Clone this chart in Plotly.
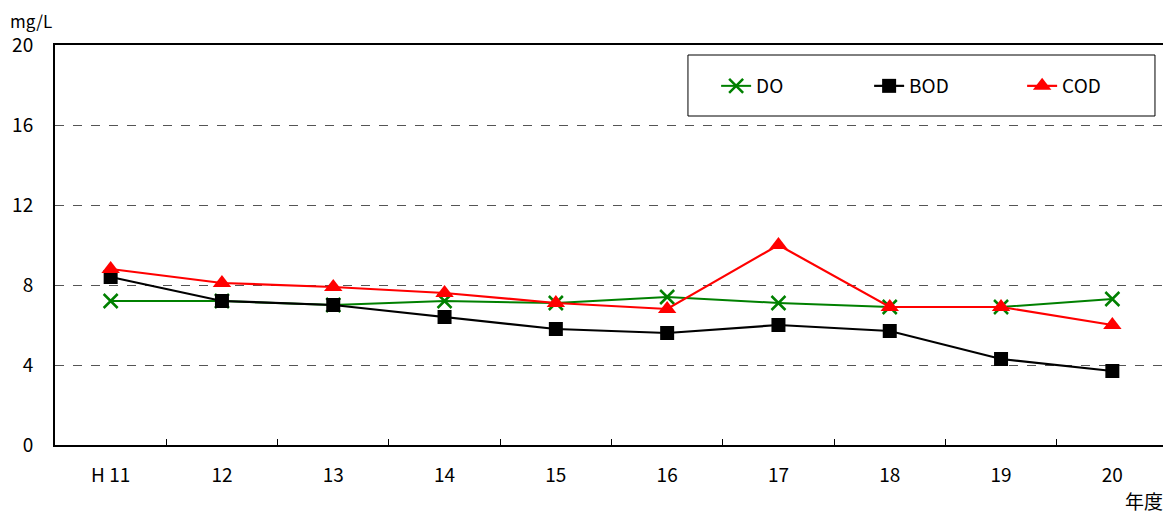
import plotly.graph_objects as go

years = ["H 11", "12", "13", "14", "15", "16", "17", "18", "19", "20"]
do_vals = [7.2, 7.2, 7.0, 7.2, 7.1, 7.4, 7.1, 6.9, 6.9, 7.3]
bod_vals = [8.4, 7.2, 7.0, 6.4, 5.8, 5.6, 6.0, 5.7, 4.3, 3.7]
cod_vals = [8.8, 8.1, 7.9, 7.6, 7.1, 6.8, 10.0, 6.9, 6.9, 6.0]
y_ticks = [0, 4, 8, 12, 16, 20]

FONT = "Noto Sans CJK JP"
FS = 19

fig = go.Figure()
fig.add_trace(go.Scatter(
    x=years, y=do_vals, name="DO", mode="lines+markers",
    line=dict(color="#008000", width=2),
    marker=dict(symbol="x-thin", size=14, line=dict(color="#008000", width=2.5), color="#008000"),
))
fig.add_trace(go.Scatter(
    x=years, y=bod_vals, name="BOD", mode="lines+markers",
    line=dict(color="#000000", width=2.2),
    marker=dict(symbol="square", size=14, color="#000000"),
))
fig.add_trace(go.Scatter(
    x=years, y=cod_vals, name="COD", mode="lines+markers",
    line=dict(color="#FF0000", width=2.2),
    marker=dict(symbol="triangle-up", size=16, color="#FF0000"),
))

fig.update_layout(
    width=1171, height=515,
    margin=dict(l=47, r=11, t=37, b=78, autoexpand=False),
    paper_bgcolor="white", plot_bgcolor="white",
    font=dict(family=FONT, size=FS, color="#000000"),
    showlegend=True,
    legend=dict(
        orientation="h", x=0.594, y=0.8975, xanchor="left", yanchor="middle",
        borderwidth=0, bgcolor="rgba(0,0,0,0)",
        entrywidth=108, entrywidthmode="pixels",
        font=dict(family=FONT, size=FS),
    ),
    xaxis=dict(
        type="category", range=[-0.5, 9.5], autorange=False,
        showline=True, linecolor="#000000", linewidth=2, mirror=True,
        ticks="inside", tickson="boundaries", ticklen=6, tickcolor="#000000", tickwidth=1,
        showgrid=False, ticklabelstandoff=12,
    ),
    yaxis=dict(
        range=[0, 20], tickvals=y_ticks, showline=True, linecolor="#000000", linewidth=2,
        mirror=True, showgrid=True, gridcolor="#555555", griddash="dash", gridwidth=1,
        ticks="", zeroline=False, ticklabelstandoff=16,
    ),
    shapes=[
        dict(type="rect", xref="paper", yref="paper", x0=0.5687, x1=0.9883, y0=0.8225, y1=0.975,
             line=dict(color="#000000", width=1), fillcolor="white", layer="below"),
    ],
    annotations=[
        dict(text="mg/L", xref="paper", yref="paper", x=0, xshift=-46, y=1.0, yshift=25,
             xanchor="left", yanchor="middle", showarrow=False, borderpad=0,
             font=dict(family=FONT, size=17)),
        dict(text="年度", xref="paper", yref="paper", x=0.9975, y=0, yshift=-40,
             xanchor="right", yanchor="top", showarrow=False, font=dict(family=FONT, size=FS)),
    ],
)

fig.write_html("out.html")
